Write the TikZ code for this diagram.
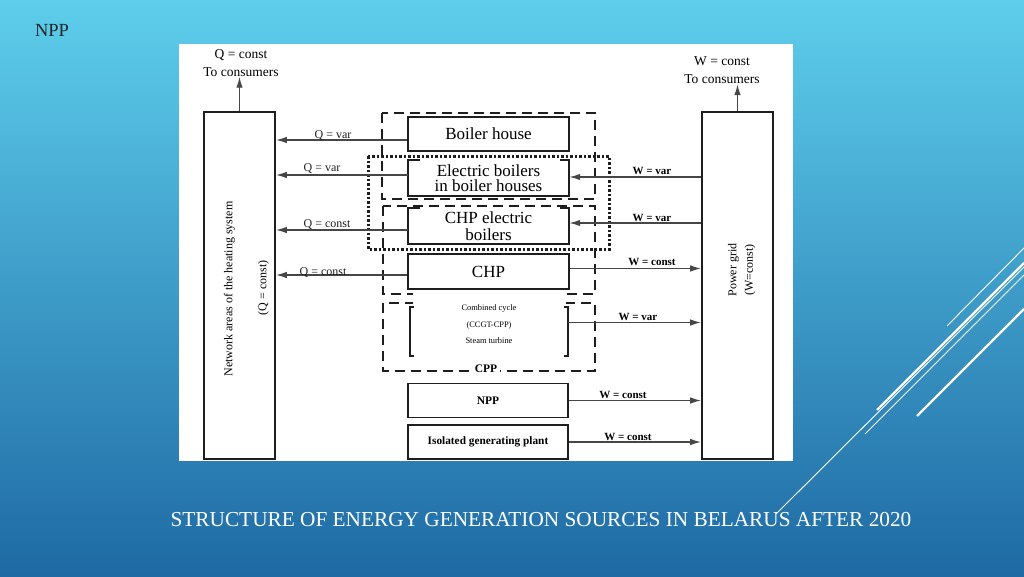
\documentclass[tikz,border=0pt]{standalone}
\usepackage{fontspec}
\setmainfont{Liberation Serif}
\usetikzlibrary{arrows.meta}
\definecolor{bgtop}{RGB}{94,206,236}
\definecolor{bgbot}{RGB}{30,106,164}
\definecolor{ink}{RGB}{30,30,30}
\definecolor{wire}{RGB}{70,70,70}
\newcommand\myfs[1]{\fontsize{#1}{#1}\selectfont}
\begin{document}
\begin{tikzpicture}[x=1pt,y=-1pt,
  box/.style={draw=ink, line width=1.7pt, fill=white, inner sep=0pt, align=center},
  openbox/.style={inner sep=0pt, align=center},
  grp/.style={draw=ink, line width=2.4pt, dash pattern=on 10pt off 6pt},
  dotgrp/.style={draw=ink, line width=3pt, dash pattern=on 2.5pt off 2pt},
  arr/.style={draw=wire, line width=1.4pt, -{Latex[length=11pt,width=6.5pt]}},
  lbl/.style={inner sep=0pt, text=ink, font=\myfs{12}},
  wlbl/.style={inner sep=0pt, text=black, font=\bfseries\myfs{11}},
  edge/.style={draw=ink, line width=1.7pt},
  brk/.style={draw=ink, line width=2.2pt},
  deco/.style={draw=white, line width=0.9pt},
  decothick/.style={draw=white, line width=2.4pt},
]
\useasboundingbox (0,0) rectangle (1024,576);
\shade[top color=bgtop, bottom color=bgbot] (0,0) rectangle (1024,576);
% white panel
\fill[white] (179,44) rectangle (793,461);

% top-left label
\node[inner sep=0pt, text=black!85, font=\myfs{18.5}] (npptop) at (52,30) {NPP};

% group boxes
\draw[grp] (382,113) rectangle (595,199);
\draw[grp] (383,206) rectangle (595,294);
\draw[grp] (383,303) rectangle (595,371);
\draw[dotgrp] (368,156) rectangle (609,249);

% tall boxes
\node[box, minimum width=71pt, minimum height=347pt] (net) at (239.5,285.5) {};
\node[box, minimum width=71pt, minimum height=347pt] (grid) at (737.5,285.5) {};
\node[inner sep=0pt, rotate=90, font=\myfs{12}] (nettxt) at (229.5,289) {Network areas of the heating system};
\node[inner sep=0pt, rotate=90, font=\myfs{12}] (netq) at (263.5,288) {(Q = const)};
\node[inner sep=0pt, rotate=90, font=\myfs{12}] (gridtxt) at (733.5,270) {Power grid};
\node[inner sep=0pt, rotate=90, font=\myfs{12}] (gridw) at (750,270) {(W=const)};

% consumer labels
\node[inner sep=0pt, align=center, font=\fontsize{13.5}{18}\selectfont] (qtop) at (241,63) {Q = const\\To consumers};
\node[inner sep=0pt, align=center, font=\fontsize{13.5}{18}\selectfont] (wtop) at (722,70.5) {W = const\\To consumers};
\draw[arr] (net.north) -- (net.north |- qtop.south);
\draw[arr] (grid.north) -- (grid.north |- wtop.south);

% sources
\node[box, minimum width=161pt, minimum height=34pt, font=\myfs{17}] (boiler) at (488.5,134) {Boiler house};
\node[openbox, minimum width=161pt, minimum height=35pt, font=\fontsize{17}{15}\selectfont] (eb) at (488.5,178) {Electric boilers\\in boiler houses};
\draw[edge] ([xshift=12pt]eb.north west) -- (eb.north west) -- (eb.south west) -- (eb.south east) -- (eb.north east) -- ([xshift=-9pt]eb.north east);
\node[openbox, minimum width=161pt, minimum height=35pt, font=\fontsize{17}{17}\selectfont] (chpe) at (488.5,226) {CHP electric\\boilers};
\draw[edge] ([xshift=12pt]chpe.north west) -- (chpe.north west) -- (chpe.south west) -- (chpe.south east) -- (chpe.north east) -- ([xshift=-9pt]chpe.north east);
\node[box, minimum width=161pt, minimum height=35pt, font=\myfs{17}] (chp) at (488.5,271.5) {CHP};

% CPP
\node[fill=white, inner sep=0pt, minimum width=153pt, minimum height=66pt] (cover) at (489.5,325) {};
\node[inner sep=0pt, align=center, font=\fontsize{8.4}{16.5}\selectfont] (cpptxt) at (489,324.5) {Combined cycle\\(CCGT-CPP)\\Steam turbine};
\node[openbox, minimum width=158pt, minimum height=49pt] (cppin) at (489,331.5) {};
\draw[brk] ([xshift=4pt]cppin.north west) -- (cppin.north west) -- (cppin.south west) -- ([xshift=4pt]cppin.south west);
\draw[brk] ([xshift=-4pt]cppin.north east) -- (cppin.north east) -- (cppin.south east) -- ([xshift=-4pt]cppin.south east);
\node[fill=white, inner xsep=3pt, inner ysep=1pt, font=\bfseries\myfs{11.5}] (cpplbl) at (486,369) {CPP};

\node[box, minimum width=160pt, minimum height=34pt, font=\bfseries\myfs{11.5}] (npp) at (488,400.5) {NPP};
\node[box, minimum width=160pt, minimum height=34pt, font=\bfseries\myfs{11.3}] (iso) at (488,442) {Isolated generating plant};

% heat connectors
\draw[arr] (boiler.west |- 0,140) -- (net.east |- 0,140);
\draw[arr] (eb.west |- 0,175) -- (net.east |- 0,175);
\draw[arr] (chpe.west |- 0,230) -- (net.east |- 0,230);
\draw[arr] (chp.west |- 0,275) -- (net.east |- 0,275);
\node[lbl] (lq1) at (333,135) {Q = var};
\node[lbl] (lq2) at (322,168) {Q = var};
\node[lbl] (lq3) at (327,224) {Q = const};
\node[lbl] (lq4) at (323,272) {Q = const};

% power connectors
\draw[arr] (grid.west |- 0,177) -- (eb.east |- 0,177);
\draw[arr] (grid.west |- 0,223) -- (chpe.east |- 0,223);
\draw[arr] (chp.east |- 0,268.5) -- (grid.west |- 0,268.5);
\draw[arr] (cppin.east |- 0,322.5) -- (grid.west |- 0,322.5);
\draw[arr] (npp.east |- 0,400.5) -- (grid.west |- 0,400.5);
\draw[arr] (iso.east |- 0,442) -- (grid.west |- 0,442);
\node[wlbl] (lw1) at (652,171) {W = var};
\node[wlbl] (lw2) at (652,218) {W = var};
\node[wlbl] (lw3) at (652,262) {W = const};
\node[wlbl] (lw4) at (638,317) {W = var};
\node[wlbl] (lw5) at (623,395) {W = const};
\node[wlbl] (lw6) at (628,437) {W = const};

% decorative lines
\draw[deco] (947,326) -- (1024,248);
\draw[decothick] (877,410) -- (1024,263);
\draw[deco] (776,514) -- (1024,267);
\draw[deco] (865,434) -- (1024,275);
\draw[decothick] (917,416) -- (1024,309);

% title
\node[inner sep=0pt, text=white, font=\myfs{21.3}] (title) at (541,520) {STRUCTURE OF ENERGY GENERATION SOURCES IN BELARUS AFTER 2020};
\end{tikzpicture}
\end{document}
